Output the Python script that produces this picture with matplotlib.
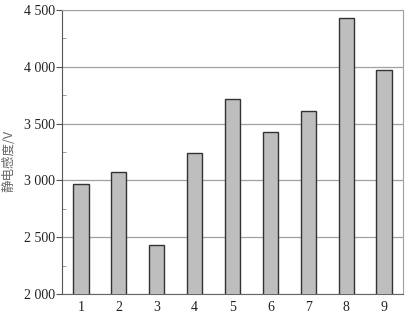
import numpy as np
import matplotlib.pyplot as plt
from matplotlib.ticker import MultipleLocator, FuncFormatter

# 数据
samples = [1, 2, 3, 4, 5, 6, 7, 8, 9]
voltage = [2966, 3071, 2431, 3241, 3715, 3423, 3608, 4427, 3969]

plt.rcParams['font.family'] = ['Liberation Serif', 'Noto Sans CJK SC', 'DejaVu Sans']

fig = plt.figure(figsize=(4.14, 3.19), dpi=100)
ax = fig.add_axes([62 / 414, 1 - 294 / 319, 341 / 414, 284 / 319])

ax.bar(samples, voltage, width=0.4, color='#bebebe',
       edgecolor='#333333', linewidth=1.0, zorder=3)

ax.set_xlim(0.5, 9.5)
ax.set_ylim(2000, 4500)
ax.set_xticks(samples)
ax.yaxis.set_major_locator(MultipleLocator(500))
ax.yaxis.set_minor_locator(MultipleLocator(250))
ax.yaxis.set_major_formatter(FuncFormatter(
    lambda v, p: '{:,}'.format(int(v)).replace(',', ' ')))

# 网格
ax.grid(axis='y', which='major', color='#a0a0a0', linewidth=0.9, zorder=0)
for s in ['top', 'right']:
    ax.spines[s].set_color('#a0a0a0')
ax.spines['left'].set_color('#555555')
ax.spines['bottom'].set_color('#666666')

ax.tick_params(axis='y', which='major', direction='out', length=4,
               color='#555555', labelsize=10, pad=1, labelcolor='#222222')
ax.tick_params(axis='y', which='minor', direction='in', length=3,
               color='#888888')
ax.tick_params(axis='x', length=0, labelsize=10, pad=5, labelcolor='#222222')

ax.set_ylabel('静电感度/V', family=['Noto Sans CJK SC', 'DejaVu Sans'],
              fontsize=9, color='#666666')
ax.yaxis.set_label_coords(-0.135, 0.47)

fig.savefig('out.png', dpi=100)
